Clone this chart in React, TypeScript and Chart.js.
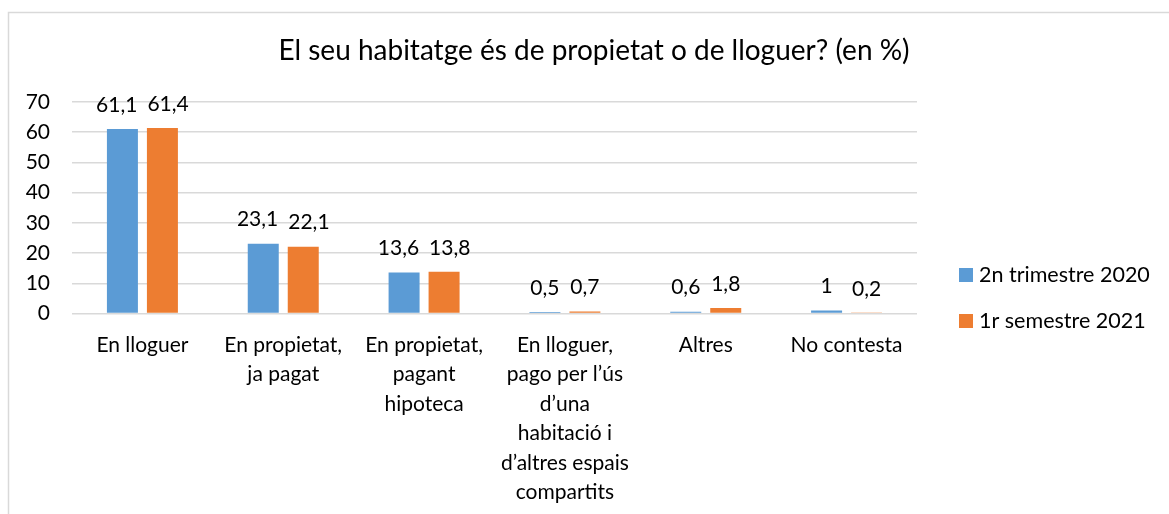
import React, { useEffect, useRef } from "react";
import { Chart, registerables } from "chart.js";

Chart.register(...registerables);

const TITLE = "El seu habitatge és de propietat o de lloguer? (en %)";
const categories: (string | string[])[] = [
  "En lloguer",
  ["En propietat,", "ja pagat"],
  ["En propietat,", "pagant", "hipoteca"],
  ["En lloguer,", "pago per l’ús", "d’una", "habitació i", "d’altres espais", "compartits"],
  "Altres",
  "No contesta",
];
const seriesNames = ["2n trimestre 2020", "1r semestre 2021"];
const series2020 = [61.1, 23.1, 13.6, 0.5, 0.6, 1];
const series2021 = [61.4, 22.1, 13.8, 0.7, 1.8, 0.2];
const seriesColors = ["#5B9BD5", "#ED7D31"];
const yTicks = [0, 10, 20, 30, 40, 50, 60, 70];

const FONT = "Lato";

const decorPlugin = {
  id: "decor",
  beforeDraw(chart: any) {
    const ctx = chart.ctx;
    ctx.save();
    ctx.fillStyle = "#ffffff";
    ctx.fillRect(0, 0, chart.width, chart.height);
    ctx.strokeStyle = "#d9d9d9";
    ctx.lineWidth = 1.5;
    ctx.beginPath();
    ctx.moveTo(8.5, chart.height + 2);
    ctx.lineTo(8.5, 12.5);
    ctx.lineTo(chart.width + 2, 12.5);
    ctx.stroke();
    ctx.restore();
  },
  afterDraw(chart: any) {
    const ctx = chart.ctx;
    ctx.save();
    // title
    ctx.fillStyle = "#000000";
    ctx.font = `28px ${FONT}`;
    ctx.textAlign = "center";
    ctx.textBaseline = "middle";
    ctx.fillText(TITLE, 594, 51);
    // data labels with simple overlap avoidance between the two series
    ctx.font = `21px ${FONT}`;
    const m0 = chart.getDatasetMeta(0);
    const m1 = chart.getDatasetMeta(1);
    const ds0 = chart.data.datasets[0];
    const ds1 = chart.data.datasets[1];
    const minGap = 10;
    for (let i = 0; i < ds0.data.length; i++) {
      const t0 = String(ds0.data[i]).replace(".", ",");
      const t1 = String(ds1.data[i]).replace(".", ",");
      const e0 = m0.data[i];
      const e1 = m1.data[i];
      let x0 = e0.x;
      let x1 = e1.x;
      const w0 = ctx.measureText(t0).width;
      const w1 = ctx.measureText(t1).width;
      const need = w0 / 2 + w1 / 2 + minGap;
      const have = x1 - x0;
      if (have < need) {
        const d = (need - have) / 2;
        x0 -= d;
        x1 += d;
      }
      ctx.fillText(t0, x0, e0.y - 24);
      ctx.fillText(t1, x1, e1.y - 24);
    }
    // legend
    ctx.font = `21.5px ${FONT}`;
    ctx.textAlign = "left";
    const ys = [275, 321];
    chart.data.datasets.forEach((ds: any, di: number) => {
      ctx.fillStyle = ds.backgroundColor;
      ctx.fillRect(959, ys[di] - 7, 14, 14);
      ctx.fillStyle = "#000000";
      ctx.fillText(ds.label, 979, ys[di]);
    });
    ctx.restore();
  },
};

export default function App() {
  const ref = useRef<HTMLCanvasElement | null>(null);
  useEffect(() => {
    if (!ref.current) return;
    const chart = new Chart(ref.current, {
      type: "bar",
      data: {
        labels: categories,
        datasets: [
          {
            label: seriesNames[0],
            data: series2020,
            backgroundColor: seriesColors[0],
            categoryPercentage: 0.568,
            barPercentage: 0.775,
          },
          {
            label: seriesNames[1],
            data: series2021,
            backgroundColor: seriesColors[1],
            categoryPercentage: 0.568,
            barPercentage: 0.775,
          },
        ],
      },
      options: {
        responsive: false,
        animation: false,
        layout: { padding: { left: 0, top: 102, right: 252, bottom: 0 } },
        plugins: {
          legend: { display: false },
          title: { display: false },
          tooltip: { enabled: false },
        },
        scales: {
          x: {
            grid: { display: false, drawTicks: false },
            border: { display: false },
            ticks: {
              color: "#000000",
              font: { family: FONT, size: 21, lineHeight: 1.4 },
              padding: 17,
              maxRotation: 0,
              autoSkip: false,
            },
            afterFit(scale: any) {
              scale.height = 200.5;
            },
          },
          y: {
            min: 0,
            max: 70,
            afterBuildTicks(scale: any) {
              scale.ticks = yTicks.map((v) => ({ value: v }));
            },
            grid: { color: "#d9d9d9", lineWidth: 1.5, drawTicks: false },
            border: { display: false },
            ticks: {
              color: "#000000",
              font: { family: FONT, size: 21 },
              padding: 22,
            },
            afterFit(scale: any) {
              scale.width = 72;
            },
          },
        },
      },
      plugins: [decorPlugin],
    });
    return () => chart.destroy();
  }, []);
  return (
    <div style={{ position: "fixed", left: 0, top: 0, width: 1169, height: 514, background: "#fff" }}>
      <canvas ref={ref} width={1169} height={514} style={{ display: "block" }} />
    </div>
  );
}
